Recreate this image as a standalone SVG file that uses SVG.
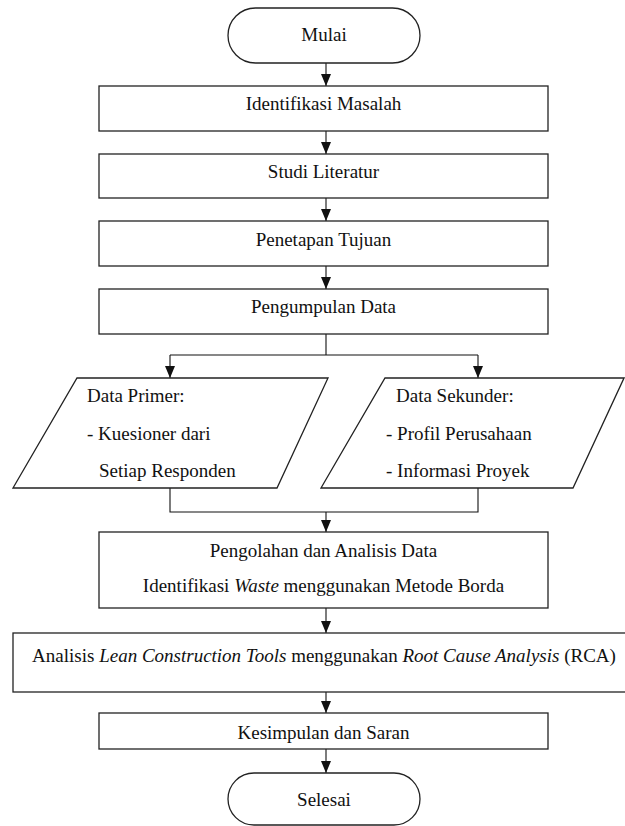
<svg xmlns="http://www.w3.org/2000/svg" width="625" height="826" viewBox="0 0 625 826">
<style>
.s{fill:#fff;stroke:#222;stroke-width:1.3}
.c{fill:none;stroke:#111;stroke-width:1.1}
text{font-family:"Liberation Serif","DejaVu Serif",serif;font-size:19px;fill:#111}
.m{text-anchor:middle}
.i{font-style:italic}
</style>
<defs>
<marker id="ah" markerUnits="userSpaceOnUse" markerWidth="12" markerHeight="10" viewBox="0 0 12 10" refX="12" refY="5" orient="auto">
<path d="M0,0 L12,5 L0,10 Z" fill="#111"/>
</marker>
</defs>
<rect width="625" height="826" fill="#fff"/>
<g id="connectors">
<path class="c" d="M326,63 V86" marker-end="url(#ah)"/>
<path class="c" d="M326,131 V154" marker-end="url(#ah)"/>
<path class="c" d="M326,198 V221" marker-end="url(#ah)"/>
<path class="c" d="M326,266 V289" marker-end="url(#ah)"/>
<path class="c" d="M326,334 V355 M170,355 H478"/>
<path class="c" d="M170,355 V378" marker-end="url(#ah)"/>
<path class="c" d="M478,355 V378" marker-end="url(#ah)"/>
<path class="c" d="M170,488 V512 H478 V488"/>
<path class="c" d="M326,512 V532" marker-end="url(#ah)"/>
<path class="c" d="M326,608 V633" marker-end="url(#ah)"/>
<path class="c" d="M326,692 V713" marker-end="url(#ah)"/>
<path class="c" d="M326,749 V773" marker-end="url(#ah)"/>
</g>
<g id="mulai">
<rect class="s" x="228" y="8" width="192" height="55" rx="27.5" ry="27.5"/>
<text class="m" x="324" y="41" font-family="Liberation Serif, serif">Mulai</text>
</g>
<g id="identifikasi">
<rect class="s" x="99" y="86" width="449" height="45"/>
<text class="m" x="323.5" y="110">Identifikasi Masalah</text>
</g>
<g id="studi">
<rect class="s" x="99" y="154" width="449" height="44"/>
<text class="m" x="323.5" y="178">Studi Literatur</text>
</g>
<g id="tujuan">
<rect class="s" x="99" y="221" width="449" height="45"/>
<text class="m" x="323.5" y="246">Penetapan Tujuan</text>
</g>
<g id="pengumpulan">
<rect class="s" x="99" y="289" width="449" height="45"/>
<text class="m" x="323.5" y="313">Pengumpulan Data</text>
</g>
<g id="primer">
<path class="s" d="M77,378 H328 L277,488 H13 Z"/>
<text x="87" y="402">Data Primer:</text>
<text x="87" y="440">- Kuesioner dari</text>
<text x="99" y="477">Setiap Responden</text>
</g>
<g id="sekunder">
<path class="s" d="M385,378 H624 L573,488 H321 Z"/>
<text x="396" y="402">Data Sekunder:</text>
<text x="386" y="440">- Profil Perusahaan</text>
<text x="386" y="477">- Informasi Proyek</text>
</g>
<g id="pengolahan">
<rect class="s" x="99" y="532" width="449" height="76"/>
<text class="m" x="323.5" y="557">Pengolahan dan Analisis Data</text>
<text class="m" x="323.5" y="592">Identifikasi <tspan class="i">Waste</tspan> menggunakan Metode Borda</text>
</g>
<g id="analisis">
<rect class="s" x="13" y="633" width="620" height="59"/>
<text class="m" x="324" y="662">Analisis <tspan class="i">Lean Construction Tools</tspan> menggunakan <tspan class="i">Root Cause Analysis</tspan> (RCA)</text>
</g>
<g id="kesimpulan">
<rect class="s" x="99" y="713" width="449" height="36"/>
<text class="m" x="323.5" y="739">Kesimpulan dan Saran</text>
</g>
<g id="selesai">
<rect class="s" x="228" y="773" width="192" height="52" rx="26" ry="26"/>
<text class="m" x="324" y="806">Selesai</text>
</g>
</svg>
